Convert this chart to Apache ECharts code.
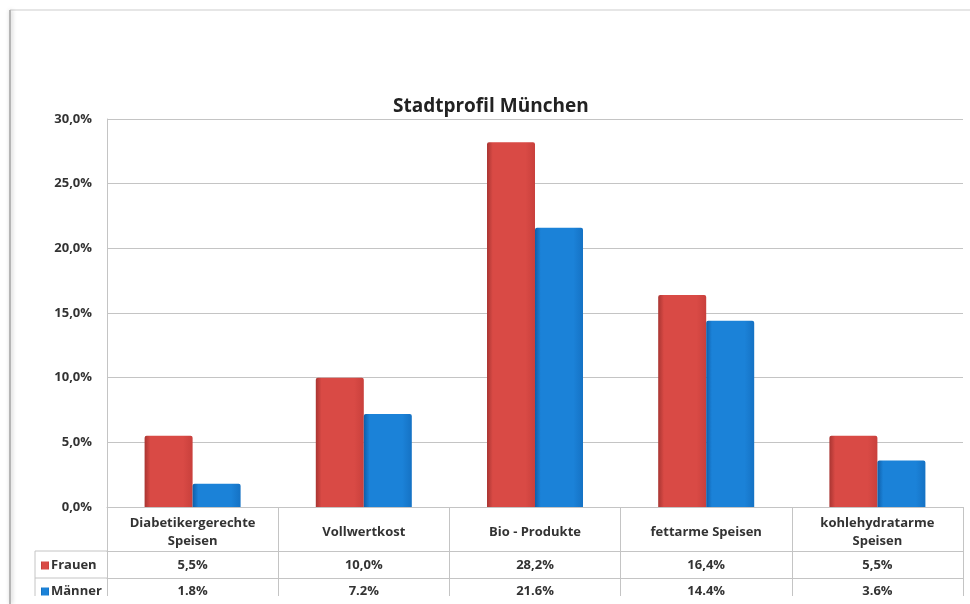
<!DOCTYPE html>
<html><head><meta charset="utf-8">
<script src="https://cdn.jsdelivr.net/npm/echarts@6/dist/echarts.min.js"></script>
<style>html,body{margin:0;padding:0;background:#fff}#c{width:970px;height:604px}</style>
</head><body><div id="c"></div>
<script>
const categories = ['Diabetikergerechte\nSpeisen', 'Vollwertkost', 'Bio - Produkte', 'fettarme Speisen', 'kohlehydratarme\nSpeisen'];
const frauen = [5.5, 10.0, 28.2, 16.4, 5.5];
const maenner = [1.8, 7.2, 21.6, 14.4, 3.6];
const frauenLabels = ['5,5%', '10,0%', '28,2%', '16,4%', '5,5%'];
const maennerLabels = ['1.8%', '7.2%', '21.6%', '14.4%', '3.6%'];
const seriesNames = ['Frauen', 'Männer'];
const seriesColors = ['#d94a45', '#1b82d8'];

const FONT = '"Open Sans", "DejaVu Sans", sans-serif';
const lineCol = '#c4c4c4';
const chart = echarts.init(document.getElementById('c'), null, {renderer: 'canvas'});

function grad(dark, main, light) {
  return new echarts.graphic.LinearGradient(0, 0, 1, 0, [
    {offset: 0, color: dark}, {offset: 0.12, color: main},
    {offset: 0.8, color: main}, {offset: 1, color: light}
  ]);
}
const labelStyle = {fontFamily: FONT, fontWeight: 'bold', fontSize: 13, color: '#333'};
const legendBase = {orient: 'vertical', left: 36, itemWidth: 8, itemHeight: 8,
  icon: 'rect', selectedMode: false,
  textStyle: Object.assign({}, labelStyle, {padding: [0, 0, 0, -3]})};
const catData = categories.map(c => c.indexOf('\n') < 0 ? {value: c, textStyle: {lineHeight: 36}} : c);
chart.setOption({
  animation: false,
  color: seriesColors,
  title: {text: 'Stadtprofil München', left: 388, top: 92,
    textStyle: {fontFamily: FONT, fontWeight: 'bold', fontSize: 19, color: '#222'}},
  legend: [
    Object.assign({}, legendBase, {top: 554, data: [seriesNames[0]]}),
    Object.assign({}, legendBase, {top: 580, data: [seriesNames[1]]})
  ],
  grid: {left: 107, right: 7, top: 119, bottom: 97},
  xAxis: [
    {type: 'category', data: catData, position: 'bottom',
     axisLine: {lineStyle: {color: lineCol}},
     axisTick: {show: true, length: 44, lineStyle: {color: lineCol}},
     axisLabel: Object.assign({}, labelStyle, {margin: 7, lineHeight: 18, interval: 0})},
    {type: 'category', data: frauenLabels, position: 'bottom', offset: 44, gridIndex: 0,
     axisLine: {show: true, lineStyle: {color: lineCol}},
     axisTick: {show: true, length: 27, lineStyle: {color: lineCol}},
     axisLabel: Object.assign({}, labelStyle, {margin: 8, interval: 0})},
    {type: 'category', data: maennerLabels, position: 'bottom', offset: 71, gridIndex: 0,
     axisLine: {show: true, lineStyle: {color: lineCol}},
     axisTick: {show: true, length: 18, lineStyle: {color: lineCol}},
     axisLabel: Object.assign({}, labelStyle, {margin: 7, interval: 0})}
  ],
  yAxis: {type: 'value', min: 0, max: 30, interval: 5,
    axisLine: {show: true, lineStyle: {color: lineCol}},
    axisTick: {show: false},
    splitLine: {lineStyle: {color: lineCol}},
    axisLabel: Object.assign({}, labelStyle, {margin: 15,
      formatter: v => v.toFixed(1).replace('.', ',') + '%'})},
  series: [
    {name: seriesNames[0], type: 'bar', data: frauen, barWidth: 48, barGap: '0%',
     itemStyle: {color: grad('#a93532', '#d94a45', '#c9403c'), borderRadius: [2, 2, 0, 0]}},
    {name: seriesNames[1], type: 'bar', data: maenner, barWidth: 48, barGap: '0%',
     itemStyle: {color: grad('#0f5ea8', '#1b82d8', '#1572c4'), borderRadius: [2, 2, 0, 0]}}
  ]
});

// table left cell borders and frame
const y0 = chart.convertToPixel({yAxisIndex: 0}, 0);
const r1 = y0 + 44, r2 = y0 + 71, r3 = y0 + 89;
const c0 = chart.convertToPixel({xAxisIndex: 0}, 0), c1 = chart.convertToPixel({xAxisIndex: 0}, 1);
const xl = c0 - (c1 - c0) / 2;
chart.setOption({graphic: [
  {type: 'line', shape: {x1: 35, y1: r1, x2: xl, y2: r1}, style: {stroke: lineCol, lineWidth: 1}},
  {type: 'line', shape: {x1: 35, y1: r2, x2: xl, y2: r2}, style: {stroke: lineCol, lineWidth: 1}},
  {type: 'line', shape: {x1: 35, y1: r1, x2: 35, y2: r3}, style: {stroke: lineCol, lineWidth: 1}},
  {type: 'line', shape: {x1: 10, y1: 10, x2: 970, y2: 10}, style: {stroke: '#e6e6e6', lineWidth: 2}},
  {type: 'line', shape: {x1: 10, y1: 10, x2: 10, y2: 604}, style: {stroke: '#b5b5b5', lineWidth: 2, shadowColor: 'rgba(0,0,0,0.25)', shadowBlur: 4, shadowOffsetX: 1}}
]});
</script></body></html>
